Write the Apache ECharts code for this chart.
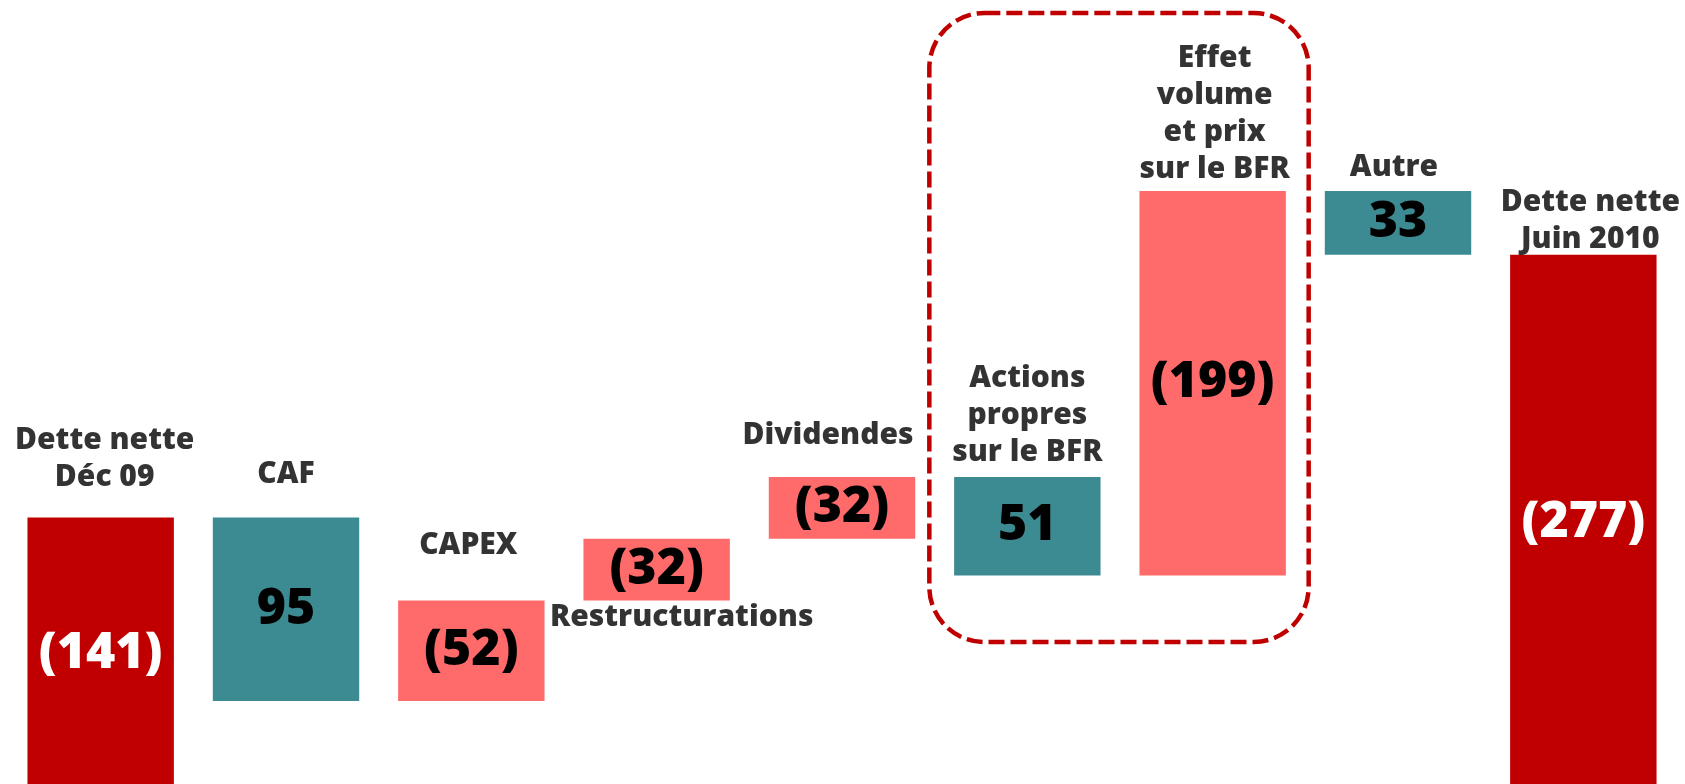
<!DOCTYPE html>
<html>
<head>
<meta charset="utf-8">
<style>
  html, body { margin: 0; padding: 0; background: #fff; overflow: hidden; }
  #chart { width: 1685px; height: 790px; }
</style>
<script src="https://cdn.jsdelivr.net/npm/echarts@6/dist/echarts.min.js"></script>
</head>
<body>
<div id="chart"></div>
<script>
// catégories du pont de dette nette
const categories = [
  'Dette nette\nDéc 09', 'CAF', 'CAPEX', 'Restructurations', 'Dividendes',
  'Actions\npropres\nsur le BFR', 'Effet\nvolume\net prix\nsur le BFR', 'Autre', 'Dette nette\nJuin 2010'
];
// valeurs affichées (négatif = hausse de la dette)
const values = [-141, 95, -52, -32, -32, 51, -199, 33, -277];
// true = barre de total (part de zéro)
const isTotal = [true, false, false, false, false, false, false, false, true];

const RED = '#C00000';
const TEAL = '#3D8B92';
const SALMON = '#FF6A6A';
const FONT = '"Open Sans", Lato, sans-serif';

// écart vertical / décalage horizontal des libellés (style uniquement)
const labelGap = [22, 25, 37, -2, 23, 6, 3, 5, -3];
const labelShift = [4, 0, -3, 25, -14, 0, 2, -4, 7];

// calcul du waterfall : niveau de dette cumulé
let level = 0;
const baseData = [], barData = [], nameData = [];
values.forEach((v, i) => {
  let lo, hi;
  if (isTotal[i]) {
    lo = 0; hi = Math.abs(v); level = hi;
  } else if (v > 0) {
    hi = level; lo = level - v; level = lo;
  } else {
    lo = level; hi = level - v; level = hi;
  }
  const color = isTotal[i] ? RED : (v > 0 ? TEAL : SALMON);
  baseData.push(lo);
  barData.push({
    value: hi - lo,
    itemStyle: { color: color },
    label: { color: isTotal[i] ? '#fff' : '#000' }
  });
  const below = categories[i] === 'Restructurations';
  nameData.push({
    value: [i, below ? lo : hi],
    label: {
      position: below ? 'bottom' : 'top',
      distance: labelGap[i],
      offset: [labelShift[i], 0]
    }
  });
});

const chart = echarts.init(document.getElementById('chart'));
const option = {
  animation: false,
  grid: { left: 8, right: 9, top: 17, bottom: 0, containLabel: false },
  xAxis: {
    type: 'category',
    data: categories,
    show: false
  },
  yAxis: {
    type: 'value',
    min: 0,
    max: 400,
    show: false
  },
  series: [
    {
      type: 'bar',
      stack: 'w',
      data: baseData,
      itemStyle: { color: 'transparent' },
      barCategoryGap: '21%',
      silent: true
    },
    {
      type: 'bar',
      stack: 'w',
      data: barData,
      barCategoryGap: '21%',
      label: {
        show: true,
        position: 'inside',
        fontFamily: FONT,
        fontWeight: 800,
        fontSize: 50,
        formatter: p => values[p.dataIndex] < 0 ? '(' + Math.abs(values[p.dataIndex]) + ')' : String(values[p.dataIndex])
      }
    },
    {
      type: 'scatter',
      data: nameData,
      symbolSize: 0,
      silent: true,
      label: {
        show: true,
        color: '#000',
        fontFamily: FONT,
        fontWeight: 800,
        fontSize: 30,
        lineHeight: 37,
        align: 'center',
        formatter: p => categories[p.data.value[0]]
      }
    }
  ]
};
chart.setOption(option);

// cadre pointillé autour des effets BFR
const c5 = chart.convertToPixel({ xAxisIndex: 0 }, 5);
const c6 = chart.convertToPixel({ xAxisIndex: 0 }, 6);
const left = c5 - 98, right = c6 + 96;
chart.setOption({
  graphic: [{
    type: 'rect',
    shape: { x: left, y: 13, width: right - left, height: 629, r: 55 },
    style: { fill: 'none', stroke: RED, lineWidth: 4.5, lineDash: [16, 6] },
    silent: true
  }]
});
</script>
</body>
</html>
